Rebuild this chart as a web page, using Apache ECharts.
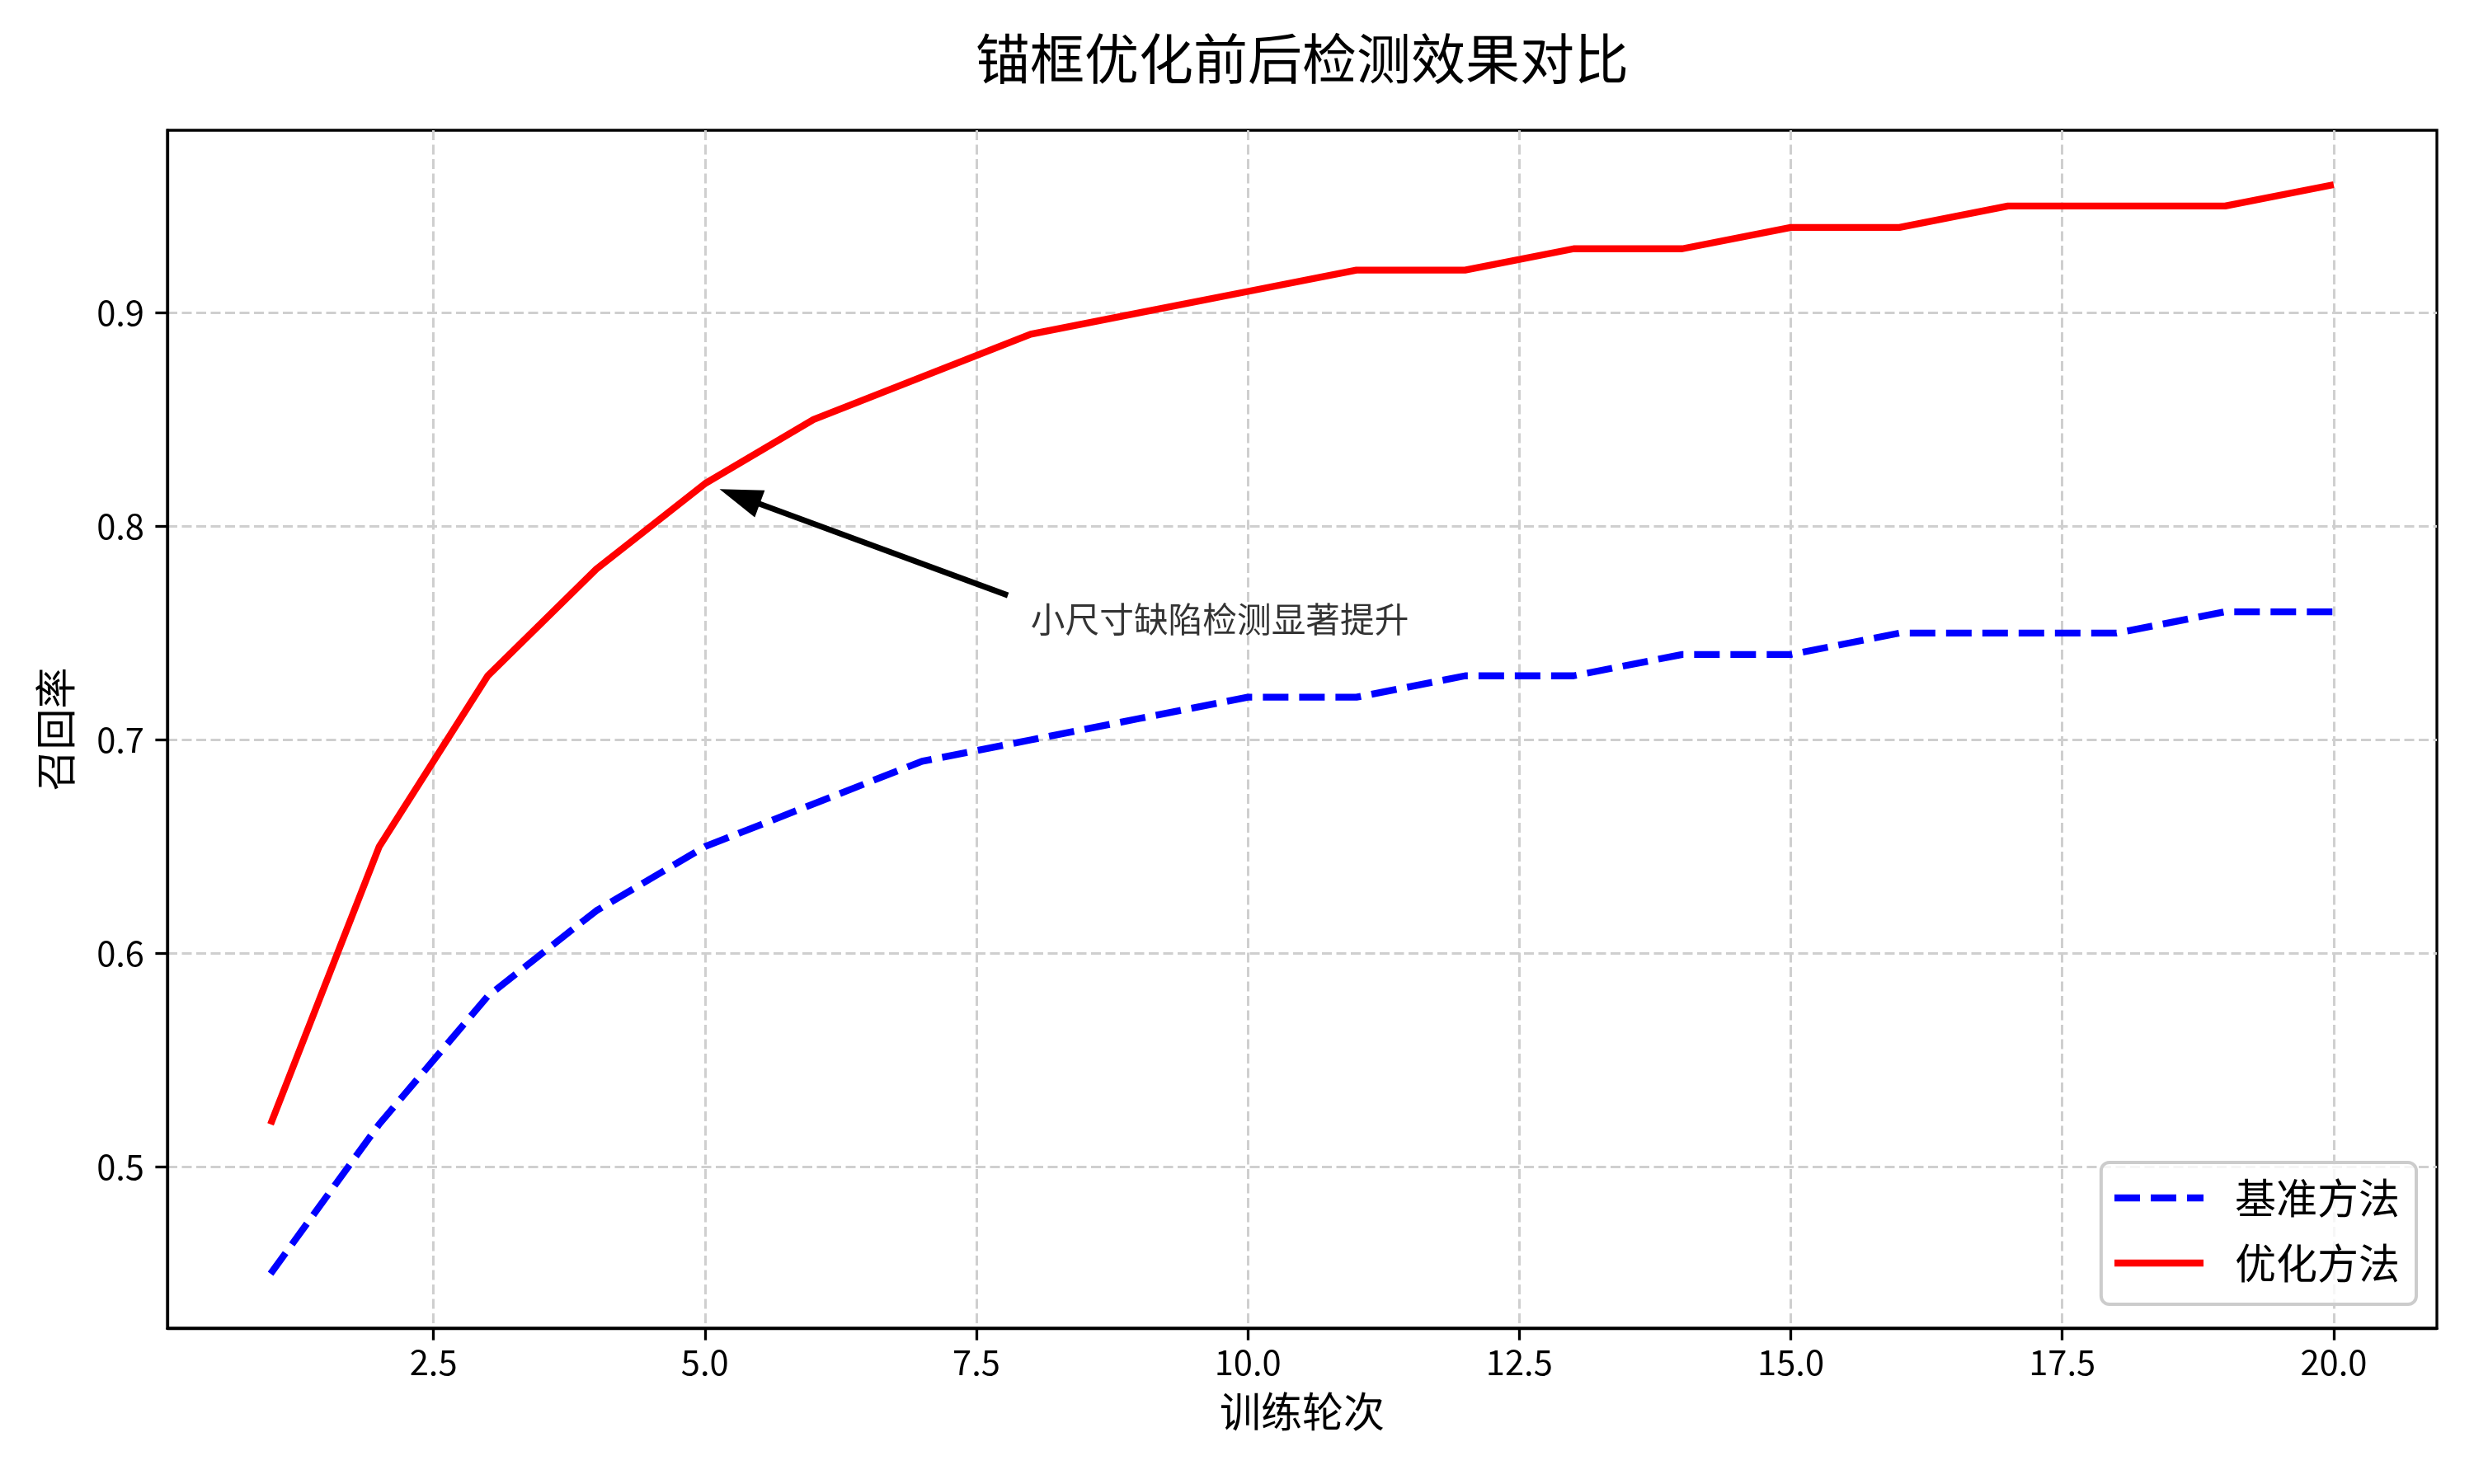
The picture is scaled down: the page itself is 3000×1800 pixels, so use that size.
<!DOCTYPE html>
<html>
<head>
<meta charset="utf-8">
<title>锚框优化前后检测效果对比</title>
<script src="https://cdn.jsdelivr.net/npm/echarts@6/dist/echarts.min.js"></script>
<style>
  html, body { margin: 0; padding: 0; background: #fff; }
  #main { width: 3000px; height: 1800px; }
</style>
</head>
<body>
<div id="main"></div>
<script>
// data
var epochs = [1, 2, 3, 4, 5, 6, 7, 8, 9, 10, 11, 12, 13, 14, 15, 16, 17, 18, 19, 20];
var baseRecall = [0.45, 0.52, 0.58, 0.62, 0.65, 0.67, 0.69, 0.70, 0.71, 0.72,
                  0.72, 0.73, 0.73, 0.74, 0.74, 0.75, 0.75, 0.75, 0.76, 0.76];
var optRecall = [0.52, 0.65, 0.73, 0.78, 0.82, 0.85, 0.87, 0.89, 0.90, 0.91,
                 0.92, 0.92, 0.93, 0.93, 0.94, 0.94, 0.95, 0.95, 0.95, 0.96];
var xTicks = [2.5, 5.0, 7.5, 10.0, 12.5, 15.0, 17.5, 20.0];
var yTicks = [0.5, 0.6, 0.7, 0.8, 0.9];
var noteText = '小尺寸缺陷检测显著提升';
var noteAt = [8, 0.75];
var arrowFrom = [7.79, 0.7677];
var arrowTo = [5.32, 0.814];   // centre of the arrow head

var FONT = '"Noto Sans CJK SC", "Noto Sans", sans-serif';

function pairs(xs, ys) {
    var out = [];
    for (var i = 0; i < xs.length; i++) {
        out.push([xs[i], ys[i]]);
    }
    return out;
}

var chart = echarts.init(document.getElementById('main'));

var gridLine = { show: true, lineStyle: { color: '#cfcfcf', width: 3, type: [12, 5.5] } };

var option = {
    animation: false,
    backgroundColor: '#fff',
    textStyle: { fontFamily: FONT },
    title: {
        text: '锚框优化前后检测效果对比',
        left: 1579,
        top: 38,
        textAlign: 'center',
        padding: 0,
        textStyle: { fontFamily: FONT, fontSize: 66, fontWeight: 'normal', color: '#000' }
    },
    grid: {
        left: 203, right: 45, top: 158, bottom: 189,
        show: true, borderColor: '#000', borderWidth: 3.3, backgroundColor: 'transparent'
    },
    legend: {
        orient: 'vertical',
        right: 70,
        bottom: 218,
        data: ['基准方法', '优化方法'],
        itemWidth: 108,
        itemHeight: 30,
        itemGap: 29,
        padding: [18, 20, 25, 12],
        backgroundColor: 'rgba(255,255,255,0.8)',
        borderColor: '#cccccc',
        borderWidth: 4,
        borderRadius: 10,
        itemStyle: { opacity: 0, borderWidth: 0 },
        lineStyle: { width: 8.3 },
        textStyle: { fontFamily: FONT, fontSize: 50, color: '#000', lineHeight: 50, padding: [0, 0, 0, 33] }
    },
    xAxis: {
        type: 'value',
        min: 0.05,
        max: 20.95,
        name: '训练轮次',
        nameLocation: 'middle',
        nameGap: 76,
        nameTextStyle: { fontFamily: FONT, fontSize: 50, color: '#000' },
        axisLine: { show: true, lineStyle: { color: '#000', width: 3.3 } },
        axisTick: { show: true, length: 14.6, lineStyle: { color: '#000', width: 3.3 }, customValues: xTicks },
        axisLabel: {
            margin: 20, fontSize: 41.7, color: '#000', fontFamily: FONT,
            customValues: xTicks,
            formatter: function (v) { return v.toFixed(1); }
        },
        splitLine: gridLine
    },
    yAxis: {
        type: 'value',
        min: 0.4245,
        max: 0.9855,
        name: '召回率',
        nameLocation: 'middle',
        nameGap: 111,
        nameTextStyle: { fontFamily: FONT, fontSize: 50, color: '#000' },
        axisLine: { show: true, lineStyle: { color: '#000', width: 3.3 } },
        axisTick: { show: true, length: 14.6, lineStyle: { color: '#000', width: 3.3 }, customValues: yTicks },
        axisLabel: {
            margin: 28, fontSize: 41.7, color: '#000', fontFamily: FONT,
            customValues: yTicks,
            formatter: function (v) { return v.toFixed(1); }
        },
        splitLine: gridLine
    },
    series: [
        {
            name: '基准方法',
            type: 'line',
            data: pairs(epochs, baseRecall),
            symbol: 'none',
            lineStyle: { color: '#0000ff', width: 8.3, type: [31, 13] },
            itemStyle: { color: '#0000ff' }
        },
        {
            name: '优化方法',
            type: 'line',
            data: pairs(epochs, optRecall),
            symbol: 'none',
            lineStyle: { color: '#ff0000', width: 8.3 },
            itemStyle: { color: '#ff0000' }
        },
        {
            name: 'note',
            type: 'scatter',
            data: [noteAt],
            symbolSize: 0,
            silent: true,
            label: {
                show: true,
                position: 'inside',
                align: 'left',
                verticalAlign: 'middle',
                offset: [0, -17],
                formatter: noteText,
                fontFamily: FONT,
                fontSize: 41.7,
                color: '#000'
            },
            markLine: {
                silent: true,
                symbol: ['none', 'triangle'],
                symbolSize: [35, 52],
                label: { show: false },
                lineStyle: { color: '#000', width: 7, type: 'solid' },
                data: [[{ coord: arrowFrom }, { coord: arrowTo }]]
            }
        }
    ]
};

chart.setOption(option);
</script>
</body>
</html>
